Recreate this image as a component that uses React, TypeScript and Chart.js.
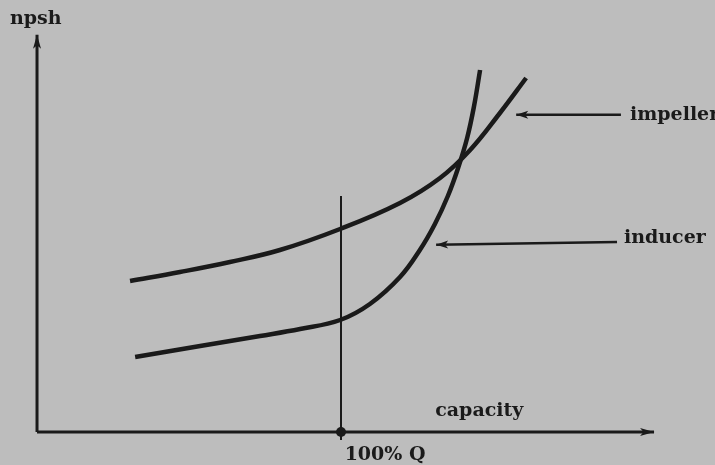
import React, { useEffect, useRef } from "react";
import { Chart, registerables } from "chart.js";

Chart.register(...registerables);

// capacity in % of Q, npsh in arbitrary units
const impellerCapacity = [29.9, 46.5, 63.1, 79.7, 99.7, 119.6, 132.9, 142.9, 152.8, 161.5];
const impellerNpsh = [37.75, 40, 42.5, 45.5, 50.75, 57.25, 63.5, 70.5, 79.75, 88.5];

const inducerCapacity = [31.6, 53.2, 73.1, 86.4, 99.7, 109.6, 119.6, 126.2, 131.2, 135.5, 138.9, 141.9, 144.2, 146.2];
const inducerNpsh = [18.75, 21.5, 24, 25.75, 28, 32, 38.75, 45.5, 52, 59, 66, 73.5, 81.5, 90.5];

const ratedCapacity = [100];
const axisLabels = ["npsh", "capacity", "100% Q"];
const curveLabels = ["impeller", "inducer"];

// axes and leader lines (capacity, npsh)
const yAxisLine = { c: [-1, -1], n: [0, 99.3] };
const xAxisLine = { c: [-1, 204], n: [0, 0] };
const ratedLine = { c: [100, 100], n: [-2, 59] };
const impellerLeader = { c: [193, 158.2], n: [79.3, 79.3] };
const inducerLeader = { c: [191.7, 131.6], n: [47.5, 46.8] };

const pts = (c: number[], n: number[]) => c.map((x, i) => ({ x, y: n[i] }));

const INK = "#1a1a1a";
const FONT = 'bold 19px "DejaVu Serif"';

const annotationPlugin = {
  id: "annotations",
  afterDatasetsDraw(chart: any) {
    const ctx = chart.ctx;
    const xs = chart.scales.x;
    const ys = chart.scales.y;
    const px = (c: number) => xs.getPixelForValue(c);
    const py = (n: number) => ys.getPixelForValue(n);

    chart.data.datasets.forEach((ds: any, i: number) => {
      if (!ds.arrow) return;
      const meta = chart.getDatasetMeta(i);
      const p = meta.data;
      const a = p[p.length - 2];
      const b = p[p.length - 1];
      const ang = Math.atan2(b.y - a.y, b.x - a.x);
      const len = ds.arrowLen || 11;
      const w = ds.arrowWidth || 4;
      ctx.save();
      ctx.fillStyle = INK;
      ctx.translate(b.x, b.y);
      ctx.rotate(ang);
      ctx.beginPath();
      ctx.moveTo(0, 0);
      ctx.lineTo(-len, -w);
      ctx.lineTo(-len * 0.75, 0);
      ctx.lineTo(-len, w);
      ctx.closePath();
      ctx.fill();
      ctx.restore();
    });

    ctx.save();
    ctx.fillStyle = INK;
    ctx.beginPath();
    ctx.arc(px(ratedCapacity[0]), py(0), 5, 0, Math.PI * 2);
    ctx.fill();
    ctx.restore();

    ctx.save();
    ctx.fillStyle = INK;
    ctx.font = FONT;
    ctx.textBaseline = "alphabetic";
    ctx.textAlign = "left";
    ctx.fillText(axisLabels[0], px(-10), py(102));
    ctx.fillText(axisLabels[1], px(131.3), py(4));
    ctx.fillText(axisLabels[2], px(101.2), py(-7));
    ctx.fillText(curveLabels[0], px(196), py(78));
    ctx.fillText(curveLabels[1], px(194), py(47.2));
    ctx.restore();
  },
};

export default function App() {
  const ref = useRef<HTMLCanvasElement | null>(null);

  useEffect(() => {
    document.body.style.margin = "0";
    document.body.style.background = "#bdbdbd";
    const canvas = ref.current;
    if (!canvas) return;
    const line = (data: any[], width: number, extra: any = {}) => ({
      data,
      showLine: true,
      borderColor: INK,
      borderWidth: width,
      pointRadius: 0,
      fill: false,
      ...extra,
    });
    const chart = new Chart(canvas, {
      type: "scatter",
      data: {
        datasets: [
          line(pts(yAxisLine.c, yAxisLine.n), 3, { arrow: true, arrowLen: 14, arrowWidth: 4 }),
          line(pts(xAxisLine.c, xAxisLine.n), 3, { arrow: true, arrowLen: 14, arrowWidth: 4 }),
          line(pts(ratedLine.c, ratedLine.n), 2),
          line(pts(impellerCapacity, impellerNpsh), 4.5, { tension: 0.4 }),
          line(pts(inducerCapacity, inducerNpsh), 4.5, { tension: 0.4 }),
          line(pts(impellerLeader.c, impellerLeader.n), 2.5, { arrow: true, arrowLen: 12, arrowWidth: 4 }),
          line(pts(inducerLeader.c, inducerLeader.n), 2.5, { arrow: true, arrowLen: 12, arrowWidth: 4 }),
        ] as any,
      },
      options: {
        animation: false,
        responsive: false,
        devicePixelRatio: 1,
        layout: { padding: 0 },
        plugins: { legend: { display: false }, tooltip: { enabled: false } },
        scales: {
          x: { type: "linear", min: -13.3, max: 224.25, display: false },
          y: { type: "linear", min: -8.25, max: 108, display: false },
        },
      },
      plugins: [annotationPlugin],
    });
    return () => chart.destroy();
  }, []);

  return (
    <div style={{ width: 715, height: 465, background: "#bdbdbd" }}>
      <canvas ref={ref} width={715} height={465} style={{ display: "block", width: 715, height: 465 }} />
    </div>
  );
}
